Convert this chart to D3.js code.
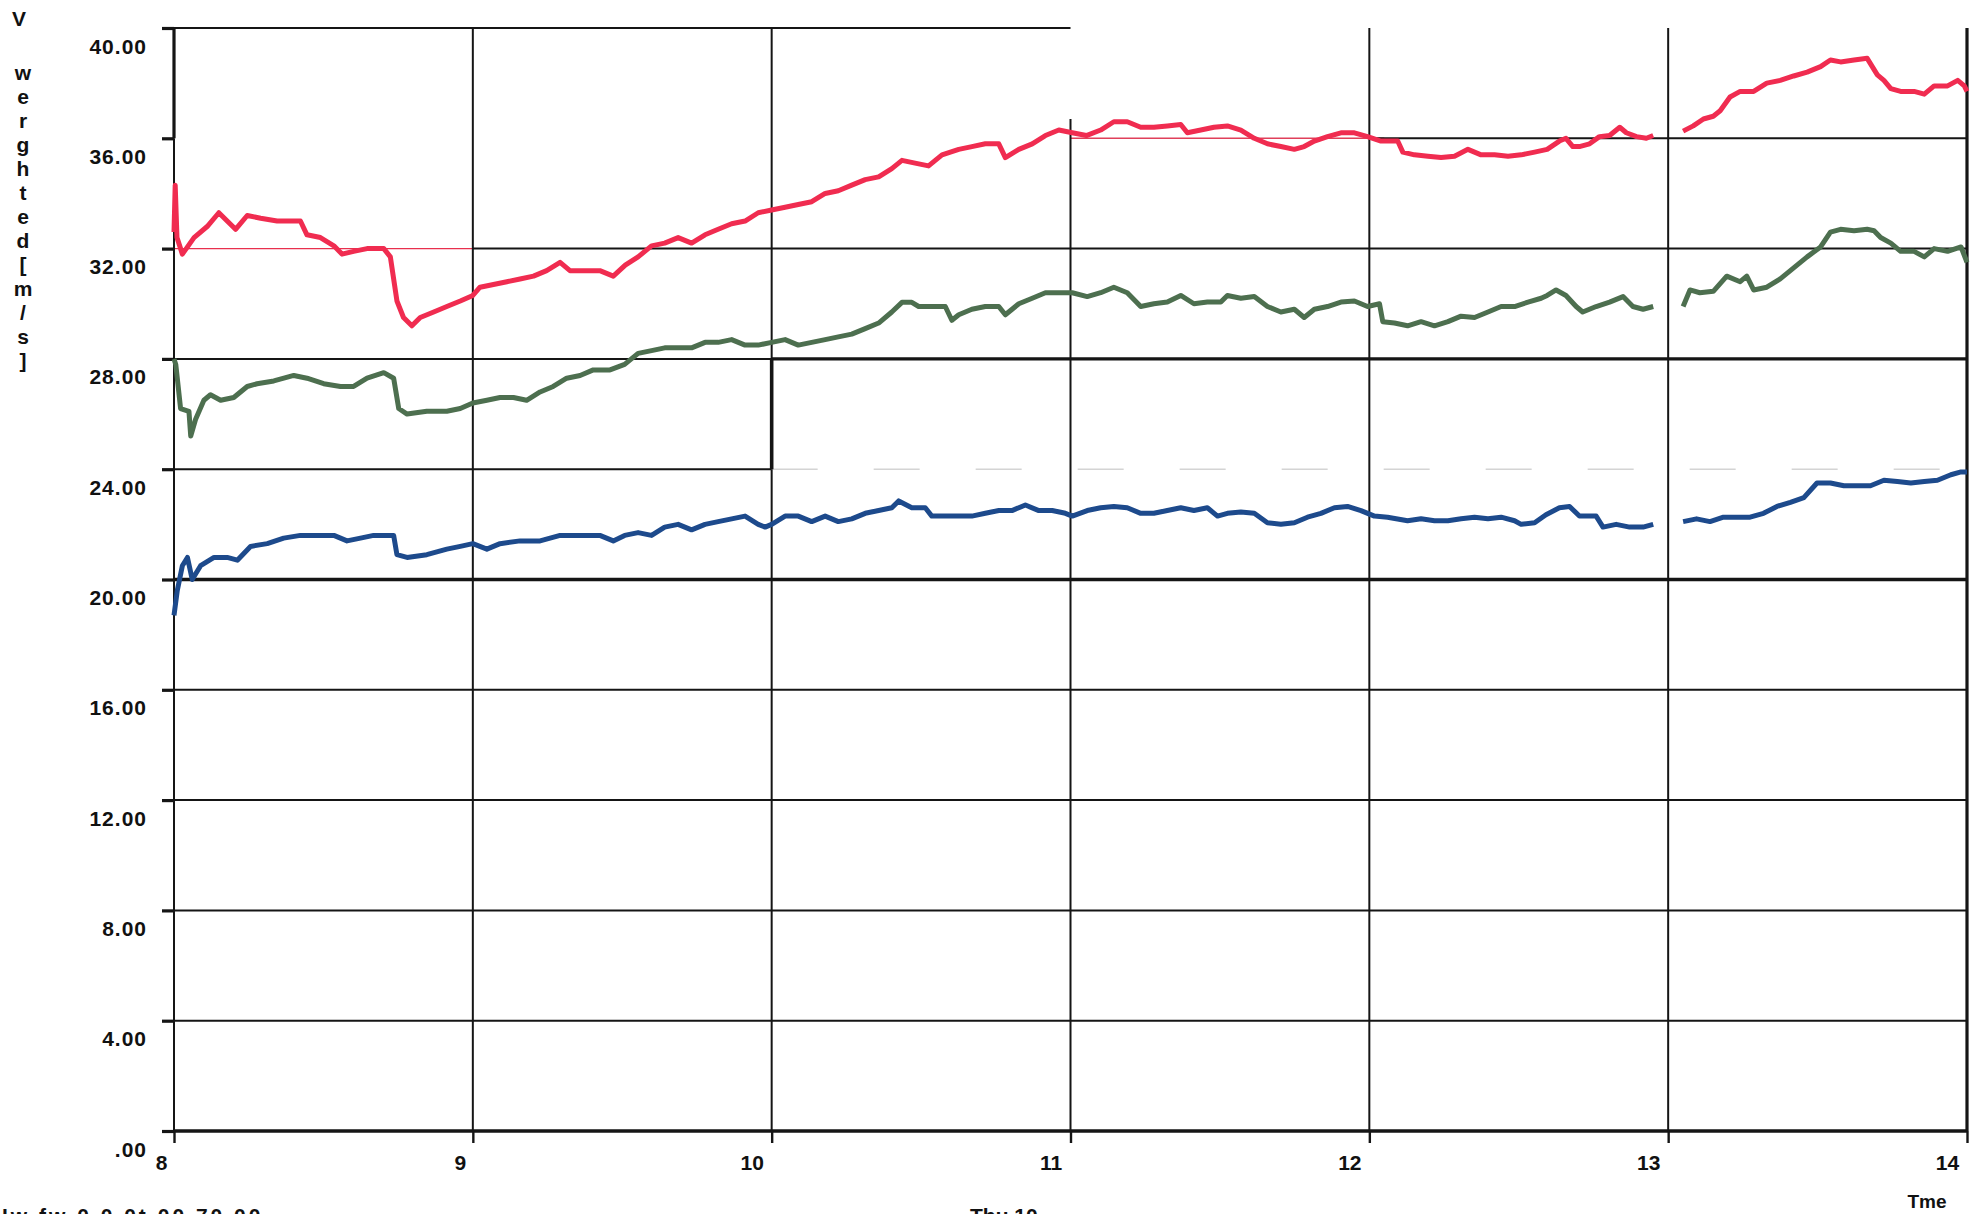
<!DOCTYPE html>
<html>
<head>
<meta charset="utf-8">
<script src="https://cdn.jsdelivr.net/npm/d3@7"></script>
<style>
  html, body { margin: 0; padding: 0; background: #fff; }
  svg { display: block; }
  text { font-family: "Liberation Sans", Arial, sans-serif; font-weight: bold; fill: #111; }
</style>
</head>
<body>
<svg id="chart" width="1977" height="1214"></svg>
<script>
// hours on the x axis and their labels
const hours = [8, 9, 10, 11, 12, 13, 14]
const hourLabels = ["8", "9", "10", "11", "12", "13", "14"]

// speed ticks
const speedTicks = [0, 4, 8, 12, 16, 20, 24, 28, 32, 36, 40]
const speedLabels = [".00", "4.00", "8.00", "12.00", "16.00", "20.00", "24.00", "28.00", "32.00", "36.00", "40.00"]

// red trace (null = gap in the record)
const redTime = [8.000, 8.004, 8.010, 8.028, 8.067, 8.111, 8.150, 8.178, 8.206, 8.245, 8.290, 8.345, 8.390, 8.423, 8.445, 8.490, 8.535, 8.562, 8.601, 8.646, 8.702, 8.724, 8.746, 8.768, 8.796, 8.824, 8.869, 8.913, 8.958, 9.000, 9.024, 9.069, 9.114, 9.158, 9.203, 9.247, 9.292, 9.325, 9.381, 9.425, 9.470, 9.510, 9.553, 9.598, 9.642, 9.687, 9.732, 9.777, 9.821, 9.866, 9.911, 9.955, 10.000, 10.045, 10.089, 10.134, 10.179, 10.223, 10.268, 10.313, 10.358, 10.402, 10.436, 10.480, 10.525, 10.570, 10.626, 10.670, 10.715, 10.760, 10.782, 10.827, 10.872, 10.916, 10.961, 11.006, 11.053, 11.101, 11.145, 11.190, 11.235, 11.279, 11.324, 11.369, 11.391, 11.436, 11.480, 11.525, 11.570, 11.615, 11.659, 11.704, 11.749, 11.782, 11.816, 11.860, 11.905, 11.950, 11.994, 12.039, 12.095, 12.112, 12.151, 12.196, 12.240, 12.285, 12.330, 12.374, 12.419, 12.464, 12.508, 12.553, 12.595, 12.636, 12.658, 12.681, 12.703, 12.737, 12.770, 12.804, 12.838, 12.860, 12.894, 12.927, 12.950, 13.000, 13.050, 13.084, 13.118, 13.151, 13.174, 13.207, 13.241, 13.286, 13.330, 13.375, 13.420, 13.465, 13.510, 13.543, 13.577, 13.622, 13.666, 13.683, 13.700, 13.722, 13.745, 13.778, 13.823, 13.857, 13.890, 13.935, 13.969, 13.991, 14.000]
const redSpeed = [32.6, 34.3, 32.4, 31.8, 32.4, 32.8, 33.3, 33.0, 32.7, 33.2, 33.1, 33.0, 33.0, 33.0, 32.5, 32.4, 32.1, 31.8, 31.9, 32.0, 32.0, 31.7, 30.1, 29.5, 29.2, 29.5, 29.7, 29.9, 30.1, 30.3, 30.6, 30.7, 30.8, 30.9, 31.0, 31.2, 31.5, 31.2, 31.2, 31.2, 31.0, 31.4, 31.7, 32.1, 32.2, 32.4, 32.2, 32.5, 32.7, 32.9, 33.0, 33.3, 33.4, 33.5, 33.6, 33.7, 34.0, 34.1, 34.3, 34.5, 34.6, 34.9, 35.2, 35.1, 35.0, 35.4, 35.6, 35.7, 35.8, 35.8, 35.3, 35.6, 35.8, 36.1, 36.3, 36.2, 36.1, 36.3, 36.6, 36.6, 36.4, 36.4, 36.45, 36.5, 36.2, 36.3, 36.4, 36.45, 36.3, 36.0, 35.8, 35.7, 35.6, 35.7, 35.9, 36.06, 36.2, 36.2, 36.06, 35.9, 35.9, 35.5, 35.4, 35.35, 35.3, 35.35, 35.6, 35.4, 35.4, 35.35, 35.4, 35.5, 35.6, 35.9, 36.0, 35.7, 35.7, 35.8, 36.06, 36.1, 36.4, 36.2, 36.06, 36.0, 36.1, null, 36.26, 36.45, 36.7, 36.8, 37.0, 37.5, 37.7, 37.7, 38.0, 38.1, 38.26, 38.4, 38.6, 38.84, 38.77, 38.84, 38.9, 38.6, 38.3, 38.1, 37.8, 37.7, 37.7, 37.6, 37.9, 37.9, 38.1, 37.9, 37.7]

// green trace
const greenTime = [8.000, 8.006, 8.022, 8.050, 8.056, 8.072, 8.100, 8.122, 8.156, 8.200, 8.245, 8.278, 8.334, 8.401, 8.445, 8.501, 8.557, 8.601, 8.646, 8.702, 8.735, 8.752, 8.780, 8.846, 8.913, 8.958, 9.000, 9.047, 9.091, 9.136, 9.180, 9.225, 9.269, 9.314, 9.359, 9.403, 9.459, 9.508, 9.553, 9.598, 9.642, 9.687, 9.732, 9.777, 9.821, 9.866, 9.911, 9.955, 10.000, 10.045, 10.089, 10.134, 10.179, 10.223, 10.268, 10.313, 10.358, 10.402, 10.436, 10.469, 10.492, 10.536, 10.581, 10.603, 10.626, 10.670, 10.715, 10.760, 10.782, 10.827, 10.872, 10.916, 10.961, 11.006, 11.056, 11.101, 11.145, 11.190, 11.235, 11.279, 11.324, 11.369, 11.413, 11.458, 11.503, 11.525, 11.570, 11.615, 11.659, 11.704, 11.749, 11.782, 11.816, 11.860, 11.905, 11.950, 11.994, 12.034, 12.045, 12.084, 12.128, 12.173, 12.218, 12.263, 12.307, 12.352, 12.397, 12.441, 12.486, 12.531, 12.575, 12.595, 12.625, 12.658, 12.692, 12.714, 12.759, 12.804, 12.849, 12.882, 12.916, 12.950, 13.000, 13.050, 13.073, 13.106, 13.151, 13.196, 13.241, 13.263, 13.286, 13.330, 13.375, 13.420, 13.465, 13.510, 13.543, 13.577, 13.622, 13.666, 13.689, 13.711, 13.745, 13.778, 13.823, 13.857, 13.890, 13.935, 13.980, 14.000]
const greenSpeed = [28.0, 27.8, 26.2, 26.1, 25.2, 25.8, 26.5, 26.7, 26.5, 26.6, 27.0, 27.1, 27.2, 27.4, 27.3, 27.1, 27.0, 27.0, 27.3, 27.5, 27.3, 26.2, 26.0, 26.1, 26.1, 26.2, 26.4, 26.5, 26.6, 26.6, 26.5, 26.8, 27.0, 27.3, 27.4, 27.6, 27.6, 27.8, 28.2, 28.3, 28.4, 28.4, 28.4, 28.6, 28.6, 28.7, 28.5, 28.5, 28.6, 28.7, 28.5, 28.6, 28.7, 28.8, 28.9, 29.1, 29.3, 29.7, 30.05, 30.05, 29.9, 29.9, 29.9, 29.4, 29.6, 29.8, 29.9, 29.9, 29.6, 30.0, 30.2, 30.4, 30.4, 30.4, 30.26, 30.4, 30.6, 30.4, 29.9, 30.0, 30.06, 30.3, 30.0, 30.06, 30.06, 30.3, 30.2, 30.26, 29.9, 29.7, 29.8, 29.5, 29.8, 29.9, 30.06, 30.1, 29.9, 30.0, 29.35, 29.3, 29.2, 29.35, 29.2, 29.35, 29.55, 29.5, 29.7, 29.9, 29.9, 30.06, 30.2, 30.3, 30.5, 30.3, 29.9, 29.7, 29.9, 30.06, 30.26, 29.9, 29.8, 29.9, null, 29.9, 30.5, 30.4, 30.45, 31.0, 30.8, 31.0, 30.5, 30.6, 30.9, 31.3, 31.7, 32.06, 32.6, 32.7, 32.65, 32.7, 32.65, 32.4, 32.2, 31.9, 31.9, 31.7, 32.0, 31.9, 32.06, 31.5]

// blue trace
const blueTime = [8.000, 8.011, 8.028, 8.045, 8.061, 8.089, 8.134, 8.178, 8.212, 8.256, 8.312, 8.367, 8.423, 8.479, 8.535, 8.579, 8.624, 8.668, 8.735, 8.746, 8.780, 8.846, 8.913, 8.958, 9.000, 9.047, 9.091, 9.158, 9.225, 9.292, 9.359, 9.425, 9.470, 9.508, 9.553, 9.598, 9.642, 9.687, 9.732, 9.777, 9.821, 9.866, 9.911, 9.955, 9.978, 10.000, 10.045, 10.089, 10.134, 10.179, 10.223, 10.268, 10.313, 10.358, 10.402, 10.425, 10.469, 10.514, 10.536, 10.581, 10.626, 10.670, 10.715, 10.760, 10.804, 10.849, 10.894, 10.939, 10.983, 11.006, 11.056, 11.101, 11.145, 11.190, 11.235, 11.279, 11.324, 11.369, 11.413, 11.458, 11.492, 11.525, 11.570, 11.615, 11.659, 11.704, 11.749, 11.793, 11.838, 11.883, 11.927, 11.972, 12.017, 12.061, 12.128, 12.173, 12.218, 12.263, 12.307, 12.352, 12.397, 12.441, 12.486, 12.508, 12.553, 12.591, 12.636, 12.670, 12.703, 12.759, 12.782, 12.826, 12.871, 12.916, 12.950, 13.000, 13.050, 13.095, 13.140, 13.185, 13.230, 13.274, 13.319, 13.364, 13.409, 13.454, 13.498, 13.543, 13.588, 13.633, 13.677, 13.722, 13.767, 13.812, 13.857, 13.901, 13.946, 13.980, 14.000]
const blueSpeed = [18.7, 19.6, 20.5, 20.8, 20.0, 20.5, 20.8, 20.8, 20.7, 21.2, 21.3, 21.5, 21.6, 21.6, 21.6, 21.4, 21.5, 21.6, 21.6, 20.9, 20.8, 20.9, 21.1, 21.2, 21.3, 21.1, 21.3, 21.4, 21.4, 21.6, 21.6, 21.6, 21.4, 21.6, 21.7, 21.6, 21.9, 22.0, 21.8, 22.0, 22.1, 22.2, 22.3, 22.0, 21.9, 22.0, 22.3, 22.3, 22.1, 22.3, 22.1, 22.2, 22.4, 22.5, 22.6, 22.85, 22.6, 22.6, 22.3, 22.3, 22.3, 22.3, 22.4, 22.5, 22.5, 22.7, 22.5, 22.5, 22.4, 22.3, 22.5, 22.6, 22.65, 22.6, 22.4, 22.4, 22.5, 22.6, 22.5, 22.6, 22.3, 22.4, 22.45, 22.4, 22.06, 22.0, 22.06, 22.26, 22.4, 22.6, 22.65, 22.5, 22.3, 22.26, 22.13, 22.2, 22.13, 22.13, 22.2, 22.26, 22.2, 22.26, 22.13, 22.0, 22.06, 22.35, 22.6, 22.65, 22.3, 22.3, 21.9, 22.0, 21.9, 21.9, 22.0, null, 22.1, 22.2, 22.1, 22.26, 22.26, 22.26, 22.4, 22.65, 22.8, 22.97, 23.5, 23.5, 23.4, 23.4, 23.4, 23.6, 23.55, 23.5, 23.55, 23.6, 23.8, 23.9, 23.9]

const svg = d3.select("#chart")
svg.append("rect").attr("width", 1977).attr("height", 1214).attr("fill", "#fff")

const x = d3.scaleLinear().domain([8, 14]).range([174, 1967])
const y = d3.scaleLinear().domain([0, 40]).range([1131, 28])

const ink = "#151515"

// horizontal grid pieces: value, from hour, to hour, width, colour, dash
var hGrid = [
  [40, 8, 11, 2.2, ink, null],
  [36, 11, 12.05, 1.4, "#e0405a", null],
  [36, 12, 14, 2, ink, null],
  [32, 8, 9, 1.4, "#e8304e", null],
  [32, 9, 14, 2, ink, null],
  [28, 8, 10, 2, ink, null],
  [28, 10, 14, 3.2, ink, null],
  [24, 8, 10, 2, ink, null],
  [24, 10, 14, 1.4, "#d4d4d4", "46,56"],
  [20, 8, 14, 3.4, ink, null],
  [16, 8, 14, 2, ink, null],
  [12, 8, 14, 2, ink, null],
  [8, 8, 14, 2, ink, null],
  [4, 8, 14, 2, ink, null],
  [0, 8, 14, 3.6, ink, null]
]

// vertical grid pieces: hour, from value, to value, width
var vGrid = [
  [8, 40, 36, 3.2], [8, 36, 0, 2],
  [9, 40, 0, 2],
  [10, 40, 28, 2], [10, 28, 24, 3.6], [10, 24, 0, 2],
  [11, 36.7, 0, 2],
  [12, 40, 0, 2],
  [13, 40, 0, 2],
  [14, 40, 0, 3.2]
]

const grid = svg.append("g")
grid.selectAll(".h").data(hGrid).enter().append("line")
  .attr("x1", d => x(d[1])).attr("x2", d => x(d[2]))
  .attr("y1", d => y(d[0])).attr("y2", d => y(d[0]))
  .attr("stroke", d => d[4]).attr("stroke-width", d => d[3])
  .attr("stroke-dasharray", d => d[5])

grid.selectAll(".v").data(vGrid).enter().append("line")
  .attr("x1", d => x(d[0])).attr("x2", d => x(d[0]))
  .attr("y1", d => y(d[1])).attr("y2", d => y(d[2]))
  .attr("stroke", ink).attr("stroke-width", d => d[3])

// y axis: ticks and labels (labels sit under their grid line)
var gy = svg.append("g")
  .attr("transform", "translate(" + x(8) + ",0)")
  .call(d3.axisLeft(y).tickValues(speedTicks).tickSize(12).tickPadding(27)
    .tickFormat((d, i) => speedLabels[i]))
gy.select(".domain").remove()
gy.selectAll(".tick line").attr("stroke", ink).attr("stroke-width", 3.2)
gy.selectAll(".tick text")
  .attr("dy", 25)
  .attr("x", -27)
  .style("font-size", "21px")
  .style("font-family", "'Liberation Sans', Arial, sans-serif")
  .style("font-weight", "bold")
  .style("letter-spacing", "1px")
  .attr("fill", ink)

// x axis
var gx = svg.append("g")
  .attr("transform", "translate(0," + y(0) + ")")
  .call(d3.axisBottom(x).tickValues(hours).tickSize(12)
    .tickFormat((d, i) => hourLabels[i]))
gx.select(".domain").remove()
gx.selectAll(".tick line").attr("stroke", ink).attr("stroke-width", 2.4)
gx.selectAll(".tick text")
  .attr("y", 39).attr("dy", 0)
  .attr("dx", (d, i) => -(6 + 7 * hourLabels[i].length))
  .style("font-size", "21px")
  .style("font-family", "'Liberation Sans', Arial, sans-serif")
  .style("font-weight", "bold")
  .attr("fill", ink)

// traces
function trace(times, speeds, colour) {
  var pts = times.map((t, i) => [t, speeds[i]])
  var line = d3.line()
    .defined(d => d[1] != null)
    .x(d => x(d[0]))
    .y(d => y(d[1]))
  svg.append("path")
    .datum(pts)
    .attr("d", line)
    .attr("fill", "none")
    .attr("stroke", colour)
    .attr("stroke-width", 5)
    .attr("stroke-linejoin", "round")
}
trace(blueTime, blueSpeed, "#1d4a8c")
trace(greenTime, greenSpeed, "#4d6f4f")
trace(redTime, redSpeed, "#f02c50")

// axis titles
svg.append("text").attr("x", 19).attr("y", 26).attr("text-anchor", "middle")
  .style("font-size", "21px").text("V")

// stacked title, letters upright in a vertical run
svg.append("text")
  .attr("x", 23).attr("y", 61)
  .style("writing-mode", "vertical-rl")
  .style("text-orientation", "upright")
  .style("font-size", "21px")
  .style("letter-spacing", "1px")
  .text("werghted[m/s]")

svg.append("text").attr("x", 1927).attr("y", 1208).attr("text-anchor", "middle")
  .style("font-size", "19px").text("Tme")

// footer line, mostly cut off by the page edge as in the print
svg.append("text").attr("x", 2).attr("y", 1223)
  .style("font-size", "21px").style("letter-spacing", "3px")
  .text("Iw  fw   0.0.0t   00.70.00")
svg.append("text").attr("x", 970).attr("y", 1223)
  .style("font-size", "21px").attr("fill", "#888")
  .text("Thu     10")
</script>
</body>
</html>
